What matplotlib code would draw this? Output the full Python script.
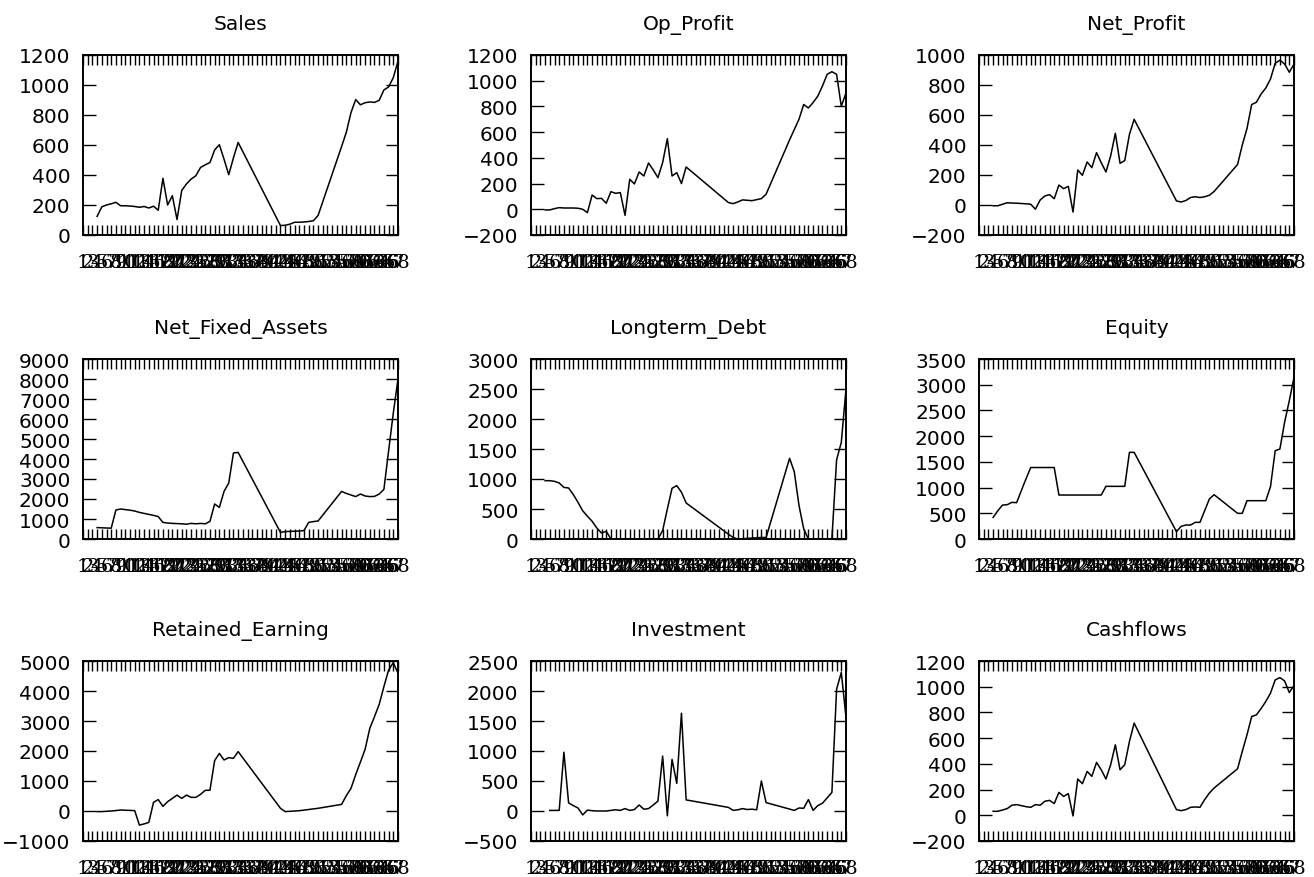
import matplotlib
matplotlib.use("Agg")
import matplotlib.pyplot as plt
import numpy as np

N = None

# row ids on the x axis
ids = list(range(1, 69))

sales = [N, N, N, 124, 188, 200, 208, 218, 195, 195, 193, 190, 185, 190, 180, 192, 165, 378, 200, 262,
         103, 297, 340, 373, 395, 450, 468, 483, 567, 602, 505, 402, 515, 617,
         N, N, N, N, N, N, N, N,
         63, 65, 72, 85, 85, 87, 90, 95, 130, N, N, N, N, 590, 684, 816, 903, 868, 882, 887, 884, 898, 967,
         987, 1049, 1160]

op_profit = [N, N, N, -5, -5, 5, 13, 10, 10, 10, 8, 0, -26, 111, 83, 85, 47, 137, 124, 130,
             -47, 233, 197, 290, 259, 360, 306, 246, 363, 549, 259, 285, 200, 329,
             N, N, N, N, N, N, N, N,
             52, 44, 57, 73, 70, 67, 75, 83, 117, N, N, N, N, 540, 620, 700, 815, 788, 830, 880, 960, 1050,
             1070, 1050, 800, 905]

net_profit = [N, N, N, -5, -5, 5, 15, 13, 12, 10, 8, 5, -28, 33, 60, 69, 42, 133, 109, 124,
              -47, 233, 198, 287, 249, 349, 282, 220, 327, 478, 278, 296, 471, 571,
              N, N, N, N, N, N, N, N,
              27, 20, 30, 50, 55, 50, 55, 65, 90, N, N, N, N, 270, 400, 510, 670, 685, 740, 780, 840, 945,
              965, 940, 885, 940]

net_fixed_assets = [N, N, N, 570, 560, 550, 540, 1450, 1500, 1470, 1440, 1400, 1330, 1280, 1230, 1180, 1120,
                    830, 800, 780, 770, 760, 740, 780, 760, 780, 760, 880, 1750, 1580, 2380, 2800, 4300, 4330,
                    N, N, N, N, N, N, N, N,
                    330, 370, 380, 390, 400, 420, 830, 870, 900, N, N, N, N, 2380, 2280, 2200, 2120, 2250,
                    2150, 2120, 2130, 2250, 2480, 4400, 6300, 8000]

longterm_debt = [N, N, N, 972, 972, 961, 933, 860, 850, 740, 610, 470, 380, 295, 183, 100, 128, 0, 0, 0,
                 0, 0, 0, 0, 0, 0, 0, 0, 140, 500, 845, 890, 780, 600,
                 N, N, N, N, N, N, N, N,
                 80, 25, 0, 5, 10, 15, 20, 25, 25, N, N, N, N, 1345, 1120, 560, 170, 0, 0, 0, 0, 0, 0,
                 1320, 1610, 2500]

equity = [N, N, N, 420, 550, 660, 667, 713, 706, 940, 1170, 1390, 1390, 1390, 1390, 1390, 1390, 855, 855,
          855, 855, 855, 855, 855, 855, 855, 855, 1024, 1024, 1024, 1024, 1024, 1685, 1685,
          N, N, N, N, N, N, N, N,
          143, 246, 272, 272, 324, 324, 551, 778, 862, N, N, N, N, 499, 499, 745, 745, 745, 745, 745,
          1017, 1717, 1750, 2270, 2690, 3140]

retained_earning = [N, N, N, -20, -20, -10, 0, 15, 33, 25, 20, 11, -470, -430, -380, 290, 380, 155, 310, 420,
                    530, 420, 530, 455, 455, 555, 690, 690, 1680, 1920, 1700, 1780, 1755, 1980,
                    N, N, N, N, N, N, N, N,
                    90, -20, -10, 0, 10, 30, 50, 70, 90, N, N, N, N, 220, 510, 755, 1210, 1630, 2055, 2755,
                    3145, 3555, 4145, 4700, 4945, 4590]

investment = [N, N, N, N, 10, 10, 10, 980, 135, 90, 50, -65, 15, 5, 0, 0, 0, 10, 20, 10,
              40, 10, 25, 100, 30, 40, 100, 165, 915, -80, 860, 460, 1630, 185,
              N, N, N, N, N, N, N, N,
              60, 10, 20, 40, 25, 30, 20, 500, 140, N, N, N, N, 32, 10, 50, 45, 190, 10, 90, 130, 220, 310,
              2030, 2310, 1560]

cashflows = [N, N, N, 31, 31, 41, 52, 78, 83, 75, 67, 62, 83, 78, 109, 116, 91, 178, 147, 168,
             -5, 282, 246, 341, 303, 411, 354, 282, 393, 548, 354, 393, 574, 717,
             N, N, N, N, N, N, N, N,
             44, 36, 44, 62, 65, 62, 122, 173, 212, N, N, N, N, 362, 497, 626, 768, 781, 830, 885, 950,
             1053, 1071, 1045, 955, 1009]

titles = ["Sales", "Op_Profit", "Net_Profit",
          "Net_Fixed_Assets", "Longterm_Debt", "Equity",
          "Retained_Earning", "Investment", "Cashflows"]
series = [sales, op_profit, net_profit,
          net_fixed_assets, longterm_debt, equity,
          retained_earning, investment, cashflows]
yranges = [(0, 1200, 200), (-200, 1200, 200), (-200, 1000, 200),
           (0, 9000, 1000), (0, 3000, 500), (0, 3500, 500),
           (-1000, 5000, 1000), (-500, 2500, 500), (-200, 1200, 200)]

W, H = 1314, 878
fig = plt.figure(figsize=(W / 100, H / 100), dpi=100)

lefts = [83, 531, 979]
tops = [56, 360, 662]
aw, ah = 315, 180

x = np.array(ids, dtype=float)
for k in range(9):
    r, c = divmod(k, 3)
    ax = fig.add_axes([lefts[c] / W, (H - tops[r] - ah) / H, aw / W, ah / H])
    y = np.array([np.nan if v is None else v for v in series[k]], dtype=float)
    m = ~np.isnan(y)
    # gaps in the ids are bridged by a straight segment
    ax.plot(x[m], y[m], color="black", linewidth=1.1)
    lo, hi, st = yranges[k]
    ax.set_ylim(lo, hi)
    ax.set_yticks(np.arange(lo, hi + st, st))
    ax.set_xlim(1, 68)
    ax.set_xticks(ids)
    ax.set_xticklabels([str(i) for i in ids], family="DejaVu Serif", fontsize=14)
    ax.tick_params(axis="x", direction="in", top=True, bottom=True, length=7, width=1, pad=13)
    ax.tick_params(axis="y", direction="in", left=True, right=True, length=9, width=1, pad=9,
                   labelsize=14.5)
    for s in ax.spines.values():
        s.set_linewidth(1.4)
    ax.set_title(titles[k], fontsize=14.5, pad=19)

fig.savefig("out.png", dpi=100)
